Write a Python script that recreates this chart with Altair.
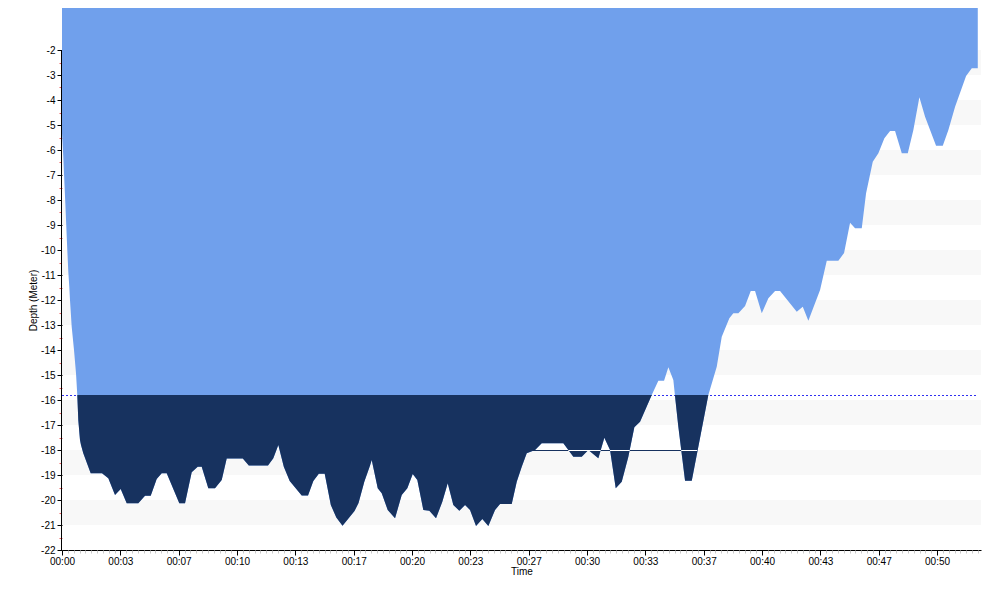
import altair as alt
import pandas as pd

# ---- dive profile (minutes, metres) ----
time_min = [0.0, 0.074, 0.131, 0.189, 0.246, 0.303, 0.36, 0.417, 0.457, 0.554,
            0.686, 0.80, 0.874, 0.931, 1.029, 1.086, 1.217, 1.64, 2.286, 2.646,
            3.029, 3.354, 3.697, 4.36, 4.743, 5.069, 5.411, 5.697, 5.983, 6.703,
            7.029, 7.411, 7.754, 7.983, 8.36, 8.743, 9.126, 9.411, 10.331, 10.674,
            11.771, 12.074, 12.36, 12.674, 13.011, 13.697, 14.057, 14.36, 14.674, 15.011,
            15.36, 15.674, 16.029, 16.714, 16.943, 17.274, 17.60, 17.697, 18.04, 18.269,
            18.611, 19.029, 19.411, 19.731, 20.04, 20.303, 20.646, 20.989, 21.371, 21.731,
            22.04, 22.36, 22.703, 23.029, 23.314, 23.657, 24.017, 24.36, 24.743, 25.029,
            25.697, 25.983, 26.269, 26.554, 27.029, 27.411, 28.646, 29.217, 29.697, 30.074,
            30.646, 30.989, 31.314, 31.64, 31.983, 32.36, 32.703, 33.029, 33.697, 34.074,
            34.40, 34.646, 34.931, 35.02, 35.217, 35.60, 35.983, 36.931, 37.411, 37.697,
            38.131, 38.36, 38.646, 39.029, 39.354, 39.60, 39.983, 40.36, 40.743, 41.029,
            41.983, 42.326, 42.646, 43.314, 43.697, 44.36, 44.686, 45.029, 45.314, 45.697,
            45.943, 46.326, 46.646, 46.989, 47.314, 47.60, 47.983, 48.326, 48.646, 48.989,
            49.314, 49.943, 50.326, 50.646, 51.029, 51.657, 51.983, 52.326]
depth_m = [-5.32, -6.27, -7.20, -8.12, -9.07, -10.00, -10.87, -11.47, -12.00, -13.07,
           -14.00, -14.93, -15.80, -16.80, -17.60, -17.80, -18.13, -18.93, -18.93, -19.13,
           -19.80, -19.56, -20.13, -20.13, -19.83, -19.83, -19.16, -18.93, -18.93, -20.13,
           -20.13, -18.89, -18.67, -18.67, -19.53, -19.53, -19.20, -18.34, -18.34, -18.62,
           -18.62, -18.33, -17.80, -18.67, -19.24, -19.82, -19.82, -19.24, -18.95, -18.95,
           -20.20, -20.70, -21.03, -20.44, -20.12, -19.27, -18.62, -18.40, -19.53, -19.73,
           -20.40, -20.73, -19.80, -19.53, -18.96, -19.20, -20.40, -20.43, -20.73, -20.07,
           -19.33, -20.20, -20.43, -20.20, -20.40, -21.04, -20.76, -21.04, -20.40, -20.16,
           -20.16, -19.27, -18.67, -18.13, -18.00, -17.73, -17.73, -18.27, -18.27, -18.00,
           -18.33, -17.51, -18.00, -19.53, -19.27, -18.27, -17.09, -16.87, -15.80, -15.23,
           -15.23, -14.69, -15.20, -15.80, -17.07, -19.23, -19.23, -15.80, -14.67, -13.47,
           -12.73, -12.53, -12.53, -12.24, -11.64, -11.64, -12.53, -11.93, -11.64, -11.64,
           -12.47, -12.27, -12.83, -11.60, -10.43, -10.43, -10.12, -8.91, -9.13, -9.13,
           -7.73, -6.47, -6.13, -5.53, -5.24, -5.24, -6.13, -6.13, -5.20, -3.89,
           -4.67, -5.83, -5.83, -5.20, -4.27, -3.04, -2.73, -2.73]

# background stripes (metres)
band_lo = [-21, -19, -17, -15, -13, -11, -9, -7, -5, -3]
band_hi = [-20, -18, -16, -14, -12, -10, -8, -6, -4, -2]

# reference lines
limit_depth = -15.8
limit_end_t = 52.33
avg_depth = -18.0
avg_start_t = 26.63
avg_end_t = 36.3
avg_white_start = [28.93, 31.31, 35.38]
avg_white_end = [30.78, 32.44, 36.3]

T_MAX = 52.51
Y_TOP = -0.32
Y_BOT = -22.0

# axis tick positions (minutes / metres)
x_major = [round(k * 10 / 3.0, 4) for k in range(0, 16)]
x_major_labels = ["00:00", "00:03", "00:07", "00:10", "00:13", "00:17", "00:20", "00:23",
                  "00:27", "00:30", "00:33", "00:37", "00:40", "00:43", "00:47", "00:50"]
x_minor = [round(k / 3.0, 4) for k in range(0, 158) if k % 10 != 0]
y_major = [float(v) for v in range(-22, -1)]
y_minor = [v + 0.5 for v in range(-22, -2)]

FONT = "Liberation Sans"
LIGHT = "#70a0ec"
NAVY = "#17325f"

prof = pd.DataFrame({"t": time_min, "d": depth_m})
bands = pd.DataFrame({"lo": band_lo, "hi": band_hi, "t0": [0.0] * len(band_lo),
                      "t1": [T_MAX] * len(band_lo)})
limit_df = pd.DataFrame({"t0": [0.0], "t1": [limit_end_t], "d": [limit_depth]})
avg_df = pd.DataFrame({"t0": [avg_start_t], "t1": [avg_end_t], "d": [avg_depth]})
avg_white_df = pd.DataFrame({"t0": avg_white_start, "t1": avg_white_end,
                             "d": [avg_depth] * len(avg_white_start)})
yaxis_df = pd.DataFrame({"t": [0.0], "lo": [-22.0], "hi": [-2.0]})

xs = alt.Scale(domain=[0, T_MAX], nice=False, zero=False)
ys = alt.Scale(domain=[Y_BOT, Y_TOP], nice=False, zero=False)

label_map = "{" + ",".join("'%d': '%s'" % (i, s) for i, s in enumerate(x_major_labels)) + "}"
x_axis = alt.Axis(
    orient="bottom", values=x_major,
    labelExpr=label_map + "[''+round(datum.value*0.3)]",
    tickColor="black", tickSize=5,
    labelOverlap=False, labelFlush=False, grid=False,
    domainColor="black", labelColor="black", labelFont=FONT, labelFontSize=10,
    labelPadding=1, title="Time", titleFont=FONT, titleFontSize=10,
    titleFontWeight="normal", titlePadding=0, titleColor="black",
)
x_axis_minor = alt.Axis(
    orient="bottom", values=x_minor, labels=False, domain=False, grid=False,
    tickColor="#c8c8c8", tickSize=3, title="",
)
y_axis = alt.Axis(
    orient="left", values=y_major,
    labelExpr="'-' + abs(datum.value)",
    tickColor="black", tickSize=5,
    labelOverlap=False, grid=False, domain=False,
    labelColor="black", labelFont=FONT, labelFontSize=10, labelPadding=2,
    title="Depth (Meter)", titleFont=FONT, titleFontSize=10,
    titleFontWeight="normal", titleColor="black", titleX=-24, titleY=292,
)
y_axis_minor = alt.Axis(
    orient="left", values=y_minor, labels=False, domain=False, grid=False,
    tickColor="#f06060", tickSize=3, title="",
)

bands_layer = alt.Chart(bands).mark_rect(color="#f8f8f8").encode(
    x=alt.X("t0:Q", scale=xs, axis=x_axis),
    x2="t1:Q",
    y=alt.Y("lo:Q", scale=ys, axis=y_axis),
    y2="hi:Q",
)

limit_layer = alt.Chart(limit_df).mark_rule(
    color="#3030f0", strokeDash=[2, 2], strokeWidth=1, yOffset=0.5
).encode(
    x=alt.X("t0:Q", axis=None), x2="t1:Q",
    y=alt.Y("d:Q", axis=None),
)

light_layer = alt.Chart(prof).mark_area(color=LIGHT, opacity=1, clip=True).transform_calculate(
    top=str(Y_TOP)
).encode(
    x=alt.X("t:Q", axis=None),
    y=alt.Y("d:Q", axis=None),
    y2="top:Q",
)

dark_layer = alt.Chart(prof).mark_area(color=NAVY, opacity=1, clip=True).transform_calculate(
    lo="min(datum.d, " + str(limit_depth) + ")", lim=str(limit_depth)
).encode(
    x=alt.X("t:Q", axis=None),
    y=alt.Y("lo:Q", axis=None),
    y2="lim:Q",
)

avg_layer = alt.Chart(avg_df).mark_rule(color=NAVY, strokeWidth=1, yOffset=0.5).encode(
    x=alt.X("t0:Q", axis=None), x2="t1:Q",
    y=alt.Y("d:Q", axis=None),
)
avg_white_layer = alt.Chart(avg_white_df).mark_rule(color="white", strokeWidth=1, yOffset=0.5).encode(
    x=alt.X("t0:Q", axis=None), x2="t1:Q",
    y=alt.Y("d:Q", axis=None),
)

yaxis_line = alt.Chart(yaxis_df).mark_rule(color="black", strokeWidth=1, xOffset=-0.5).encode(
    x=alt.X("t:Q", axis=x_axis_minor),
    y=alt.Y("lo:Q", axis=y_axis_minor), y2="hi:Q",
)

chart = alt.layer(
    bands_layer, limit_layer, light_layer, dark_layer, avg_layer, avg_white_layer, yaxis_line
).resolve_axis(x="independent", y="independent").properties(
    width=919, height=542,
    autosize=alt.AutoSizeParams(type="none"),
    padding={"left": 54, "top": 0, "right": 11, "bottom": 42},
    background="white",
).configure_view(strokeWidth=0).configure_axis(domainWidth=1, tickWidth=1)

chart.save("out.html", embed_options={"renderer": "svg", "actions": False})
